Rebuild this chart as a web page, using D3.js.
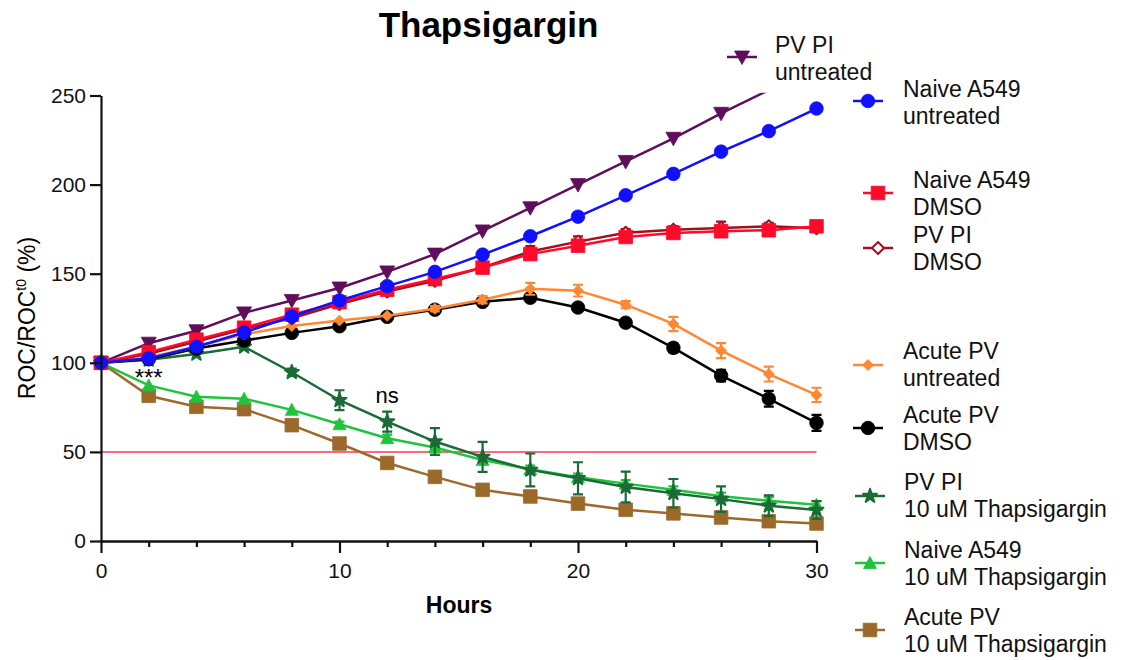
<!DOCTYPE html>
<html>
<head>
<meta charset="utf-8">
<script src="https://d3js.org/d3.v7.min.js"></script>
<style>
  body { margin: 0; background: #fff; }
  svg { font-family: "Liberation Sans", Arial, sans-serif; }
  .axis path, .axis line { stroke: #111; stroke-width: 2.2px; }
  .axis text { font-size: 21px; fill: #111; }
</style>
</head>
<body>
<script>
// hours sampled every 2 h
var hours = [0, 2, 4, 6, 8, 10, 12, 14, 16, 18, 20, 22, 24, 26, 28, 30];

// mean ROC/ROC t0 (%) per series
var pvpiUntreated   = [100, 111, 118, 128, 135, 142, 151, 161, 174, 187, 200, 213, 226, 240, 253, 266];
var naiveUntreated  = [100, 102.5, 109, 117, 126, 135, 143, 151, 160.7, 171, 182, 194, 206, 218.5, 230, 242.7];
var naiveDmso       = [100, 106, 113, 119.7, 127, 134, 141, 147, 153.4, 161, 165.7, 170.6, 172.9, 173.8, 174.4, 176.6];
var pvpiDmso        = [100, 105, 112, 119, 125, 133, 140, 146, 153.5, 162.5, 168, 173, 174.7, 175.7, 176.6, 175.5];
var acuteUntreated  = [100, 103, 109, 116, 120.6, 123.7, 126.4, 130.3, 135.4, 141.5, 140.5, 132.6, 121.8, 106.8, 93.7, 82];
var acuteDmso       = [100, 102, 108, 112.5, 116.8, 120.5, 125.8, 129.8, 134.2, 136.5, 131, 122.5, 108.4, 92.8, 79.8, 66.3];
var pvpiThaps       = [100, 101.7, 105, 109, 94.7, 79, 67, 55.8, 47.2, 39.9, 35.2, 30.3, 26.8, 23.5, 19.8, 17.4];
var naiveThaps      = [100, 87.3, 81, 79.8, 73.6, 65.5, 57.7, 52.5, 45.5, 40.3, 35.8, 32.2, 28.7, 25.1, 22.6, 20.4];
var acuteThaps      = [100, 81.5, 75.3, 74, 65, 54.7, 43.8, 36, 28.7, 25, 21, 17.5, 15.5, 13.2, 11.1, 9.8];

// error (SEM) per series
var pvpiUntreatedErr  = [0, 0.5, 0.5, 0.5, 0.5, 0.5, 0.5, 0.5, 0.5, 0.5, 0.5, 0.5, 0.5, 0.5, 0.5, 0.5];
var naiveUntreatedErr = [0, 0.5, 0.5, 0.5, 0.5, 0.5, 0.5, 0.5, 0.5, 0.5, 0.5, 0.5, 0.5, 0.5, 0.5, 0.5];
var naiveDmsoErr      = [0, 1, 1, 1, 1, 1, 1, 1, 1, 1, 1, 1, 1, 1, 1, 1];
var pvpiDmsoErr       = [0, 1, 1, 1, 1, 1.5, 1.5, 2, 2, 3, 3, 2, 2, 3.5, 2, 2];
var acuteUntreatedErr = [0, 0.5, 0.5, 1, 1, 1, 1, 1.5, 2, 3.3, 3.3, 2, 4, 4.2, 4.2, 4];
var acuteDmsoErr      = [0, 0.5, 0.5, 1, 1, 1, 1, 1, 1.5, 2, 2, 2, 2.5, 3.3, 4.4, 4.5];
var pvpiThapsErr      = [0, 1, 1, 1.5, 2, 5.6, 5.6, 7.5, 8.4, 9.2, 9, 8.6, 8, 7.2, 5.8, 5];
var naiveThapsErr     = [0, 1, 1, 1, 1, 1.5, 2, 2, 2, 2, 2, 2, 2, 2, 2, 2];
var acuteThapsErr     = [0, 1, 1, 1, 1, 1, 1, 1, 1, 1, 1, 1, 1, 1, 1, 1];

var legendNames = [
  ["PV PI", "untreated"],
  ["Naive A549", "untreated"],
  ["Naive A549", "DMSO"],
  ["PV PI", "DMSO"],
  ["Acute PV", "untreated"],
  ["Acute PV", "DMSO"],
  ["PV PI", "10 uM Thapsigargin"],
  ["Naive A549", "10 uM Thapsigargin"],
  ["Acute PV", "10 uM Thapsigargin"]
];

var yTicks = [0, 50, 100, 150, 200, 250];
var xMajor = [0, 10, 20, 30];
var threshold = 50;

// series styling, order = draw order (bottom first)
var series = [
  {name: 0, v: pvpiUntreated,  e: pvpiUntreatedErr,  color: "#5e0e5a", shape: "triDown", fill: true},
  {name: 8, v: acuteThaps,     e: acuteThapsErr,     color: "#9b6a2b", shape: "square",  fill: true},
  {name: 7, v: naiveThaps,     e: naiveThapsErr,     color: "#1fc43c", shape: "triUp",   fill: true},
  {name: 6, v: pvpiThaps,      e: pvpiThapsErr,      color: "#1b6b37", shape: "star",    fill: true},
  {name: 5, v: acuteDmso,      e: acuteDmsoErr,      color: "#000000", shape: "circle",  fill: true},
  {name: 4, v: acuteUntreated, e: acuteUntreatedErr, color: "#ff8833", shape: "diamond", fill: true},
  {name: 3, v: pvpiDmso,       e: pvpiDmsoErr,       color: "#a30f1f", shape: "diamondO", fill: false},
  {name: 2, v: naiveDmso,      e: naiveDmsoErr,      color: "#ff0a2a", shape: "square",  fill: true},
  {name: 1, v: naiveUntreated, e: naiveUntreatedErr, color: "#1010ff", shape: "circle",  fill: true}
];

// legend placement: marker x, marker y, text x, first baseline
var legendPos = [
  [742, 57, 775, 53],
  [868, 101, 903, 97],
  [878, 193, 913, 188],
  [878, 248, 913, 243],
  [868, 365, 903, 359],
  [868, 428, 903, 423],
  [870, 496, 904, 490],
  [870, 563, 904, 558],
  [870, 630, 904, 625]
];

var W = 1122, H = 660;
var svg = d3.select("body").append("svg").attr("width", W).attr("height", H);

var x = d3.scaleLinear().domain([0, 30]).range([101, 816.5]);
var y = d3.scaleLinear().domain([0, 250]).range([541, 95.5]);

function markerPath(shape) {
  switch (shape) {
    case "circle": return d3.arc()({innerRadius: 0, outerRadius: 6.8, startAngle: 0, endAngle: 2 * Math.PI});
    case "square": return "M-6.8,-6.8H6.8V6.8H-6.8Z";
    case "triDown": return "M-7.5,-6H7.5L0,7.5Z";
    case "triUp": return "M-6.5,5.5H6.5L0,-6.5Z";
    case "diamond": return "M0,-5.5L5.5,0L0,5.5L-5.5,0Z";
    case "diamondO": return "M0,-6L6,0L0,6L-6,0Z";
    case "star": return d3.symbol(d3.symbolStar, 60)();
  }
}

// plot clip so lines leaving the top stop at the axis
svg.append("clipPath").attr("id", "plotclip").append("rect")
  .attr("x", x(0) - 10).attr("y", y(251.5))
  .attr("width", x(30) - x(0) + 20).attr("height", y(0) - y(251.5) + 10);

// threshold line
svg.append("line")
  .attr("x1", x(0)).attr("x2", x(30))
  .attr("y1", y(threshold)).attr("y2", y(threshold))
  .attr("stroke", "#ff3355").attr("stroke-width", 1.5);

var line = d3.line().x(function(d) { return x(d[0]); }).y(function(d) { return y(d[1]); });

var plot = svg.append("g").attr("clip-path", "url(#plotclip)");

series.forEach(function(s) {
  var pts = hours.map(function(h, i) { return [h, s.v[i], s.e[i]]; });
  var g = plot.append("g");
  g.append("path").attr("d", line(pts))
    .attr("fill", "none").attr("stroke", s.color).attr("stroke-width", 2.5);
  var shown = pts.filter(function(p) { return p[1] <= 250; });
  // error bars
  shown.filter(function(p) { return p[2] >= 1.5; }).forEach(function(p) {
    var cx = x(p[0]), y1 = y(p[1] + p[2]), y2 = y(p[1] - p[2]);
    g.append("path")
      .attr("d", "M" + cx + "," + y1 + "V" + y2 + "M" + (cx - 5) + "," + y1 + "H" + (cx + 5) + "M" + (cx - 5) + "," + y2 + "H" + (cx + 5))
      .attr("stroke", s.color).attr("stroke-width", 2.2).attr("fill", "none");
  });
  g.selectAll(".m").data(shown).enter().append("path")
    .attr("transform", function(p) { return "translate(" + x(p[0]) + "," + y(p[1]) + ")"; })
    .attr("d", markerPath(s.shape))
    .attr("fill", s.fill ? s.color : "#fff")
    .attr("stroke", s.color).attr("stroke-width", s.fill ? (s.shape == "star" ? 2 : 0.8) : 2)
    .attr("stroke-linejoin", "round");
});

// axes
var yAxis = d3.axisLeft(y).tickValues(yTicks).tickSize(11).tickSizeOuter(0).tickPadding(4);
svg.append("g").attr("class", "axis").attr("transform", "translate(" + x(0) + ",0)").call(yAxis);

var minor = hours.filter(function(h) { return xMajor.indexOf(h) < 0; });
svg.append("g").attr("class", "axis").attr("transform", "translate(0," + y(0) + ")")
  .call(d3.axisBottom(x).tickValues(minor).tickSize(6).tickSizeOuter(0).tickFormat(""));
svg.append("g").attr("class", "axis").attr("transform", "translate(0," + y(0) + ")")
  .call(d3.axisBottom(x).tickValues(xMajor).tickSize(12).tickSizeOuter(0).tickPadding(10));

// titles
svg.append("text").attr("x", 488.5).attr("y", 37).attr("text-anchor", "middle")
  .attr("font-size", 35).attr("font-weight", "bold").text("Thapsigargin");
svg.append("text").attr("x", 459).attr("y", 613).attr("text-anchor", "middle")
  .attr("font-size", 23).attr("font-weight", "bold").text("Hours");

var yl = svg.append("text").attr("transform", "translate(35,318) rotate(-90)")
  .attr("text-anchor", "middle").attr("font-size", 23);
yl.append("tspan").text("ROC/ROC");
yl.append("tspan").attr("font-size", 14).attr("dy", -9).text("t0");
yl.append("tspan").attr("dy", 9).text(" (%)");

// significance annotations
svg.append("text").attr("x", x(2)).attr("y", 386).attr("text-anchor", "middle")
  .attr("font-size", 24).text("***");
svg.append("text").attr("x", x(12)).attr("y", 403).attr("text-anchor", "middle")
  .attr("font-size", 22).text("ns");

// legend
var legend = svg.append("g");
series.forEach(function(s) {
  var p = legendPos[s.name];
  var g = legend.append("g");
  g.append("line").attr("x1", p[0] - 15).attr("x2", p[0] + 15).attr("y1", p[1]).attr("y2", p[1])
    .attr("stroke", s.color).attr("stroke-width", 2.5);
  g.append("path").attr("transform", "translate(" + p[0] + "," + p[1] + ")")
    .attr("d", markerPath(s.shape))
    .attr("fill", s.fill ? s.color : "#fff")
    .attr("stroke", s.color).attr("stroke-width", s.fill ? (s.shape == "star" ? 2 : 0.8) : 2)
    .attr("stroke-linejoin", "round");
  var t = g.append("text").attr("font-size", 23).attr("fill", "#111");
  legendNames[s.name].forEach(function(l, i) {
    t.append("tspan").attr("x", p[2]).attr("y", p[3] + i * 27).text(l);
  });
});
</script>
</body>
</html>
